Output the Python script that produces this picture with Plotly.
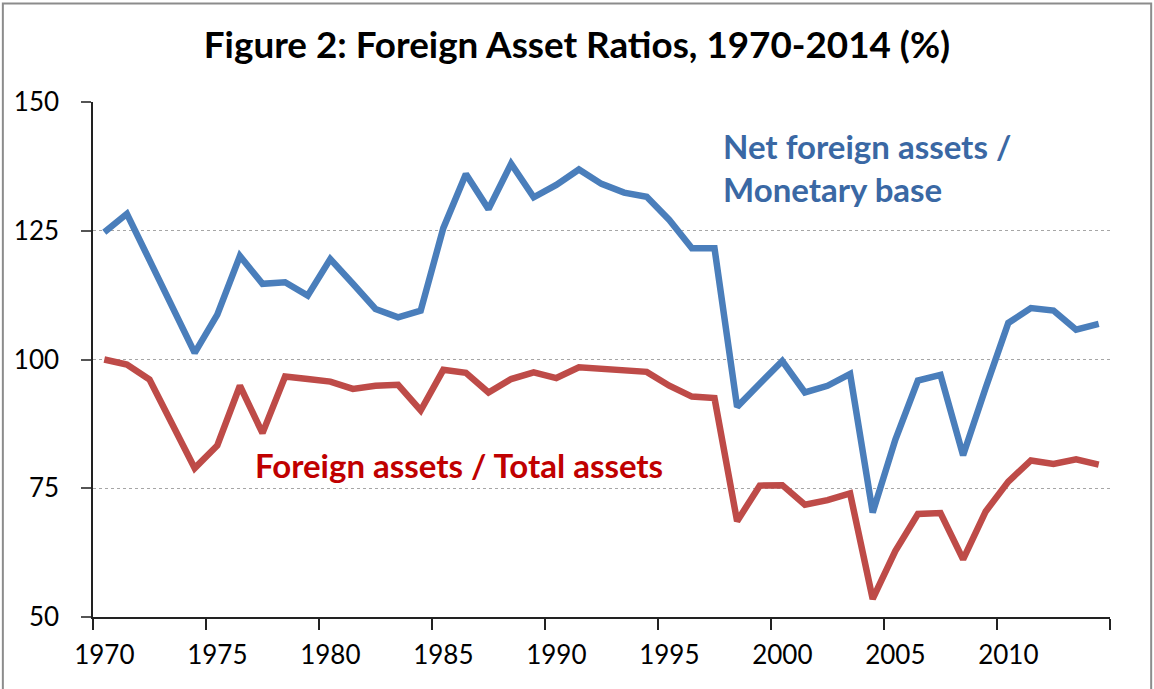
import plotly.graph_objects as go

years = list(range(1970, 2015))

net_foreign_to_base = [
    124.7, 128.3, 119.3, 110.3, 101.3, 108.7, 120.1, 114.7, 115.0, 112.4,
    119.5, 114.7, 109.8, 108.2, 109.5, 125.5, 136.0, 129.2, 138.0, 131.5,
    133.9, 136.9, 134.1, 132.4, 131.6, 127.1, 121.6, 121.6, 90.8, 95.3,
    99.7, 93.6, 94.9, 97.2, 70.3, 84.4, 95.9, 97.0, 81.4, 94.5,
    107.1, 110.0, 109.5, 105.8, 106.9,
]

foreign_to_total = [
    100.0, 99.0, 96.1, 87.7, 78.9, 83.3, 94.9, 85.7, 96.7, 96.2,
    95.7, 94.3, 94.9, 95.1, 90.1, 98.0, 97.4, 93.6, 96.2, 97.5,
    96.4, 98.5, 98.3, 97.9, 97.6, 94.9, 92.8, 92.5, 68.6, 75.5,
    75.6, 71.8, 72.7, 74.0, 53.5, 62.8, 70.0, 70.2, 61.2, 70.5,
    76.3, 80.4, 79.7, 80.6, 79.6,
]

y_ticks = [50, 75, 100, 125, 150]
x_tick_labels = [1970, 1975, 1980, 1985, 1990, 1995, 2000, 2005, 2010]

W, H = 1154, 689
PL, PR, PT, PB = 92.7, 1110.3, 102.0, 617.3


def px(xp):
    return (xp - PL) / (PR - PL)


def py(yp):
    return (PB - yp) / (PB - PT)


FONT = "Lato"
BLUE_LINE = "#4A7EBB"
RED_LINE = "#BE4B48"

fig = go.Figure()
fig.add_trace(go.Scatter(
    x=years, y=net_foreign_to_base, mode="lines",
    line=dict(color=BLUE_LINE, width=6.5), name="Net foreign assets / Monetary base",
    hoverinfo="x+y",
))
fig.add_trace(go.Scatter(
    x=years, y=foreign_to_total, mode="lines",
    line=dict(color=RED_LINE, width=6.5), name="Foreign assets / Total assets",
    hoverinfo="x+y",
))

fig.update_layout(
    width=W, height=H, autosize=False,
    margin=dict(l=PL, r=W - PR, t=PT, b=H - PB, pad=0),
    paper_bgcolor="white", plot_bgcolor="white",
    showlegend=False,
    font=dict(family=FONT, color="black", size=26),
    title=dict(
        text="<b>Figure 2: Foreign Asset Ratios, 1970-2014 (%)</b>",
        x=px(577), xanchor="center", xref="paper",
        y=1 - 45 / H, yanchor="middle", yref="container",
        font=dict(family=FONT, size=36.8, color="black"),
    ),
)

fig.update_xaxes(
    range=[1969.5, 2014.5],
    tickmode="array", tickvals=x_tick_labels,
    ticktext=[str(v) for v in x_tick_labels],
    ticks="", showgrid=False, zeroline=False,
    showline=True, linecolor="#222", linewidth=1.5,
    tickfont=dict(family=FONT, size=26, color="black"),
    minor=dict(tickmode="linear", tick0=1969.5, dtick=5, ticks="outside",
               ticklen=11, tickwidth=1.5, tickcolor="#222", showgrid=False),
    ticklabelstandoff=14,
)

fig.update_yaxes(
    range=[50, 150],
    tickmode="array", tickvals=y_ticks,
    ticks="outside", ticklen=10, tickwidth=1.5, tickcolor="#555",
    showline=True, linecolor="#222", linewidth=1.5,
    showgrid=True, gridcolor="#A6A6A6", gridwidth=1, griddash="3px,3px",
    zeroline=False,
    tickfont=dict(family=FONT, size=26, color="black"),
    ticklabelstandoff=17,
)

ann_font_blue = dict(family=FONT, size=33, color="#3A68A4")
ann_font_red = dict(family=FONT, size=33, color="#C00000")
fig.add_annotation(text="<b>Net foreign assets /</b>", xref="paper", yref="paper",
                   x=px(721), y=py(146), xanchor="left", yanchor="middle",
                   showarrow=False, font=ann_font_blue)
fig.add_annotation(text="<b>Monetary base</b>", xref="paper", yref="paper",
                   x=px(721), y=py(189), xanchor="left", yanchor="middle",
                   showarrow=False, font=ann_font_blue)
fig.add_annotation(text="<b>Foreign assets / Total assets</b>", xref="paper", yref="paper",
                   x=px(253), y=py(465), xanchor="left", yanchor="middle",
                   showarrow=False, font=ann_font_red)

# outer frame of the chart
fig.add_shape(type="rect", xref="paper", yref="paper",
              x0=px(2.5), x1=px(1151.5), y0=py(3.5), y1=py(720),
              line=dict(color="#8C8C8C", width=2), fillcolor="rgba(0,0,0,0)",
              layer="below")

fig.write_html("out.html", config={"displayModeBar": False},
               post_script="document.body.style.margin='0';")
